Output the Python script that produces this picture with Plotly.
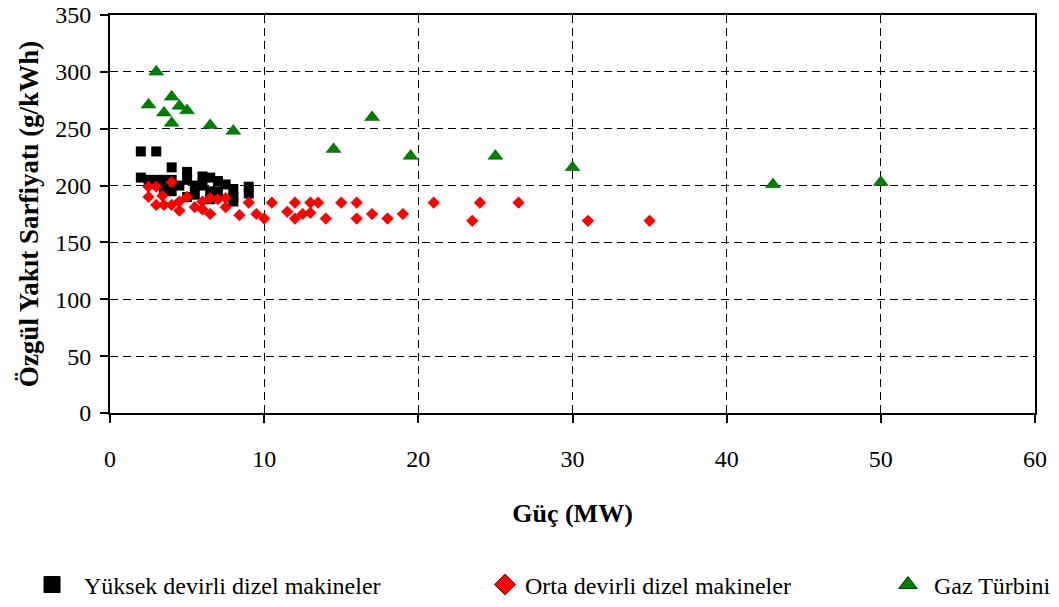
import plotly.graph_objects as go

# Yüksek devirli dizel makineler
hs_x = [2.0, 3.0, 2.0, 2.5, 3.0, 3.5, 4.0, 4.0, 5.0, 4.5, 5.0, 5.5, 6.0, 6.5, 7.0, 7.5, 8.0, 9.0,
        6.0, 6.5, 7.0, 8.0, 9.0, 5.0, 5.5, 6.5, 8.0, 4.0, 3.5]
hs_y = [230, 230, 207, 205, 205, 205, 205, 216, 212, 200, 205, 200, 208, 207, 204, 201, 197, 199,
        200, 195, 195, 190, 193, 190, 192, 188, 186, 195, 196]

# Orta devirli dizel makineler
ms_x = [2.5, 3.0, 4.0, 2.5, 3.0, 3.5, 3.4, 4.0, 4.5, 4.5, 5.0, 5.5, 6.0, 6.0, 6.5, 6.5, 7.0, 7.5,
        7.5, 8.4, 9.0, 9.5, 10.0, 10.5, 11.5, 12.0, 12.0, 12.5, 13.0, 13.0, 13.5, 14.0, 15.0,
        16.0, 16.0, 17.0, 18.0, 19.0, 21.0, 23.5, 24.0, 26.5, 31.0, 35.0]
ms_y = [199, 199, 203, 190, 183, 183, 191, 183, 186, 178, 190, 181, 186, 179, 189, 175, 188, 189,
        181, 174, 185, 175, 171, 185, 177, 185, 171, 175, 185, 176, 185, 171, 185,
        185, 171, 175, 171, 175, 185, 169, 185, 185, 169, 169]

# Gaz Türbini
gt_x = [3.0, 2.5, 3.5, 4.0, 4.0, 4.5, 5.0, 6.5, 8.0, 14.5, 17.0, 19.5, 25.0, 30.0, 43.0, 50.0]
gt_y = [300, 271, 264, 278, 255, 270, 266, 253, 248, 232, 260, 226, 226, 216, 201, 203]

names = ["\u00a0\u00a0Yüksek devirli dizel makineler", "Orta devirli dizel makineler", "\u00a0Gaz Türbini"]

x_ticks = [0, 10, 20, 30, 40, 50, 60]
y_ticks = [0, 50, 100, 150, 200, 250, 300, 350]

FONT = "Times New Roman"

fig = go.Figure()
fig.add_trace(go.Scatter(x=hs_x, y=hs_y, mode="markers", showlegend=False,
                         marker=dict(symbol="square", size=10, color="black")))
fig.add_trace(go.Scatter(x=ms_x, y=ms_y, mode="markers", showlegend=False,
                         marker=dict(symbol="diamond", size=9, color="red",
                                     line=dict(color="#cc0000", width=0.5))))
fig.add_trace(go.Scatter(x=gt_x, y=gt_y, mode="markers", showlegend=False,
                         marker=dict(symbol="triangle-up", size=13, color="green",
                                     line=dict(color="#005000", width=0.5))))

# legend entries with larger markers
leg_specs = [
    ("square", "black", "black", "legend"),
    ("diamond", "red", "#600000", "legend2"),
    ("triangle-up", "green", "#003000", "legend3"),
]
for nm, (sym, col, lc, lg) in zip(names, leg_specs):
    fig.add_trace(go.Scatter(x=[None], y=[None], mode="markers", name=nm, legend=lg,
                             marker=dict(symbol=sym, size=16, color=col,
                                         line=dict(color=lc, width=1))))

leg_common = dict(orientation="h", yanchor="middle", xanchor="left",
                  font=dict(family=FONT, size=24, color="black"),
                  bgcolor="rgba(0,0,0,0)", borderwidth=0)

fig.update_layout(
    width=1059, height=607,
    margin=dict(l=110, r=24, t=15, b=194, autoexpand=False),
    paper_bgcolor="white", plot_bgcolor="white",
    font=dict(family=FONT, color="black", size=20),
    legend=dict(x=-0.0843, y=-0.432, **leg_common),
    legend2=dict(x=0.4054, y=-0.432, **leg_common),
    legend3=dict(x=0.841, y=-0.432, **leg_common),
    xaxis=dict(range=[0, 60], tickvals=x_ticks, showline=True, linecolor="black", linewidth=2,
               mirror=True, ticks="outside", ticklen=8, tickwidth=2, tickcolor="black",
               showgrid=True, gridcolor="black", gridwidth=1, griddash="8px,5px",
               zeroline=False, tickfont=dict(family=FONT, size=24), ticklabelstandoff=15,
               title=dict(text="<b>Güç (MW)</b>", font=dict(family=FONT, size=26), standoff=33),
               automargin=False),
    yaxis=dict(range=[0, 350], tickvals=y_ticks, showline=True, linecolor="black", linewidth=2,
               mirror=True, ticks="outside", ticklen=8, tickwidth=2, tickcolor="black",
               showgrid=True, gridcolor="black", gridwidth=1, griddash="8px,5px",
               zeroline=False, tickfont=dict(family=FONT, size=24), ticklabelstandoff=4,
               title=dict(text="<b>Özgül Yakıt Sarfiyatı (g/kWh)</b>", font=dict(family=FONT, size=27),
                          standoff=9),
               automargin=False),
)

fig.write_html("out.html")
